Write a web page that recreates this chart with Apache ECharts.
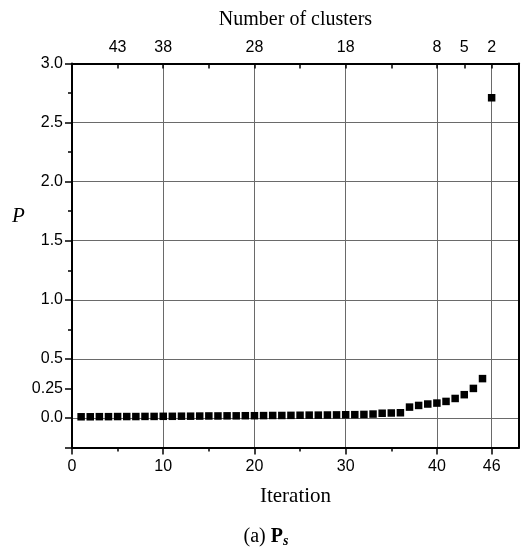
<!DOCTYPE html>
<html>
<head>
<meta charset="utf-8">
<script src="https://cdn.jsdelivr.net/npm/echarts@6/dist/echarts.min.js"></script>
<style>
html,body{margin:0;padding:0;background:#fff;}
#chart{width:522px;height:550px;}
</style>
</head>
<body>
<div id="chart"></div>
<script>
// ---- data ----
const iterations = [1,2,3,4,5,6,7,8,9,10,11,12,13,14,15,16,17,18,19,20,21,22,23,24,25,26,27,28,29,30,31,32,33,34,35,36,37,38,39,40,41,42,43,44,45,46];
const pValues = [0.010,0.010,0.011,0.011,0.012,0.012,0.012,0.013,0.013,0.014,0.014,0.015,0.015,0.016,0.017,0.017,0.018,0.018,0.019,0.019,0.020,0.021,0.021,0.022,0.023,0.024,0.024,0.025,0.026,0.027,0.028,0.030,0.033,0.040,0.042,0.044,0.092,0.106,0.118,0.126,0.140,0.165,0.197,0.250,0.333,2.71];

// tick definitions
const bottomTickValues = [0,10,20,30,40,46];
const bottomMinorTicks = [5,15,25,35];
const gridXValues = [10,20,30,40,46];
const topLabelIterations = [5,10,20,30,40,43,46];
const clusterLabels = ['43','38','28','18','8','5','2'];
const topTickMarks = [5,10,15,20,25,30,35,40,43,46];
const yLabelValues = [0,0.25,0.5,1.0,1.5,2.0,2.5,3.0];
const yLabelTexts = ['0.0','0.25','0.5','1.0','1.5','2.0','2.5','3.0'];
const yMajorTicks = [-0.25,0,0.25,0.5,1.0,1.5,2.0,2.5,3.0];
const yMinorTicks = [0.75,1.25,1.75,2.25,2.75];
const gridYValues = [0,0.5,1.0,1.5,2.0,2.5];

const seriesData = iterations.map((it, i) => [it, pValues[i]]);

const sans = 'Liberation Sans, Arial, sans-serif';
const serif = 'Liberation Serif, Times New Roman, serif';
const axisColor = '#000';
const gridColor = '#6a6a6a';

const chart = echarts.init(document.getElementById('chart'), null, {renderer: 'canvas'});
const X_MIN = 0, X_MAX = 49, Y_MIN = -0.25, Y_MAX = 3.0;

chart.setOption({
  animation: false,
  backgroundColor: '#fff',
  grid: {left: 72, right: 3, top: 63.5, bottom: 102.5, containLabel: false},
  xAxis: [
    { // main bottom axis
      type: 'value', position: 'bottom', min: X_MIN, max: X_MAX,
      name: 'Iteration', nameLocation: 'middle', nameGap: 38,
      nameTextStyle: {fontFamily: serif, fontSize: 21, color: '#000'},
      axisLine: {show: true, onZero: false, lineStyle: {color: axisColor, width: 2}},
      axisTick: {show: true, inside: false, length: 7, customValues: bottomTickValues, lineStyle: {color: axisColor, width: 1.5}},
      axisLabel: {show: true, margin: 11, customValues: bottomTickValues, fontFamily: sans, fontSize: 16, color: '#000'},
      splitLine: {show: false}
    },
    { // bottom minor ticks
      type: 'value', position: 'bottom', min: X_MIN, max: X_MAX,
      axisLine: {show: false, onZero: false},
      axisTick: {show: true, inside: false, length: 4, customValues: bottomMinorTicks, lineStyle: {color: axisColor, width: 1.5}},
      axisLabel: {show: false},
      splitLine: {show: false}
    },
    { // top axis: number of clusters
      type: 'value', position: 'top', min: X_MIN, max: X_MAX,
      name: 'Number of clusters', nameLocation: 'middle', nameGap: 34,
      nameTextStyle: {fontFamily: serif, fontSize: 20, color: '#000'},
      axisLine: {show: true, onZero: false, lineStyle: {color: axisColor, width: 2}},
      axisTick: {show: true, inside: true, length: 5, customValues: topTickMarks, lineStyle: {color: axisColor, width: 1.5}},
      axisLabel: {show: true, margin: 8, customValues: topLabelIterations, fontFamily: sans, fontSize: 16, color: '#000',
        formatter: function (v) { const i = topLabelIterations.indexOf(Math.round(v)); return i >= 0 ? clusterLabels[i] : ''; }},
      splitLine: {show: false}
    },
    { // vertical grid lines
      type: 'value', position: 'bottom', min: X_MIN, max: X_MAX,
      axisLine: {show: false, onZero: false},
      axisTick: {show: false, customValues: gridXValues},
      axisLabel: {show: false, customValues: gridXValues},
      splitLine: {show: true, customValues: gridXValues, lineStyle: {color: gridColor, width: 1}}
    }
  ],
  yAxis: [
    { // main left axis
      type: 'value', position: 'left', min: Y_MIN, max: Y_MAX,
      axisLine: {show: true, onZero: false, lineStyle: {color: axisColor, width: 2}},
      axisTick: {show: true, inside: false, length: 7, customValues: yMajorTicks, lineStyle: {color: axisColor, width: 1.5}},
      axisLabel: {show: true, margin: 9, customValues: yLabelValues, fontFamily: sans, fontSize: 16, color: '#000',
        formatter: function (v) { for (let i = 0; i < yLabelValues.length; i++) { if (Math.abs(yLabelValues[i] - v) < 1e-6) return yLabelTexts[i]; } return ''; }},
      splitLine: {show: false}
    },
    { // left minor ticks
      type: 'value', position: 'left', min: Y_MIN, max: Y_MAX,
      axisLine: {show: false, onZero: false},
      axisTick: {show: true, inside: false, length: 4, customValues: yMinorTicks, lineStyle: {color: axisColor, width: 1.5}},
      axisLabel: {show: false},
      splitLine: {show: false}
    },
    { // right border + horizontal grid lines
      type: 'value', position: 'right', min: Y_MIN, max: Y_MAX,
      axisLine: {show: true, onZero: false, lineStyle: {color: axisColor, width: 2}},
      axisTick: {show: false, customValues: gridYValues},
      axisLabel: {show: false, customValues: gridYValues},
      splitLine: {show: true, customValues: gridYValues, lineStyle: {color: gridColor, width: 1}}
    }
  ],
  graphic: [
    {type: 'text', left: 12, top: 206, style: {text: 'P', font: 'italic 21px ' + serif, fill: '#000'}},
    {type: 'text', x: 266, y: 537, style: {
      text: '(a) {b|P}{s|s}', textAlign: 'center', textVerticalAlign: 'middle',
      font: '20px ' + serif, fill: '#000',
      rich: {
        b: {fontFamily: serif, fontSize: 20, fontWeight: 'bold', fill: '#000'},
        s: {fontFamily: serif, fontSize: 14, fontWeight: 'bold', fontStyle: 'italic', fill: '#000', padding: [8, 0, 0, 0]}
      }
    }}
  ],
  series: [{
    type: 'scatter', xAxisIndex: 0, yAxisIndex: 0,
    symbol: 'rect', symbolSize: 7.5,
    itemStyle: {color: '#000', opacity: 1},
    data: seriesData,
    z: 5
  }]
});
</script>
</body>
</html>
